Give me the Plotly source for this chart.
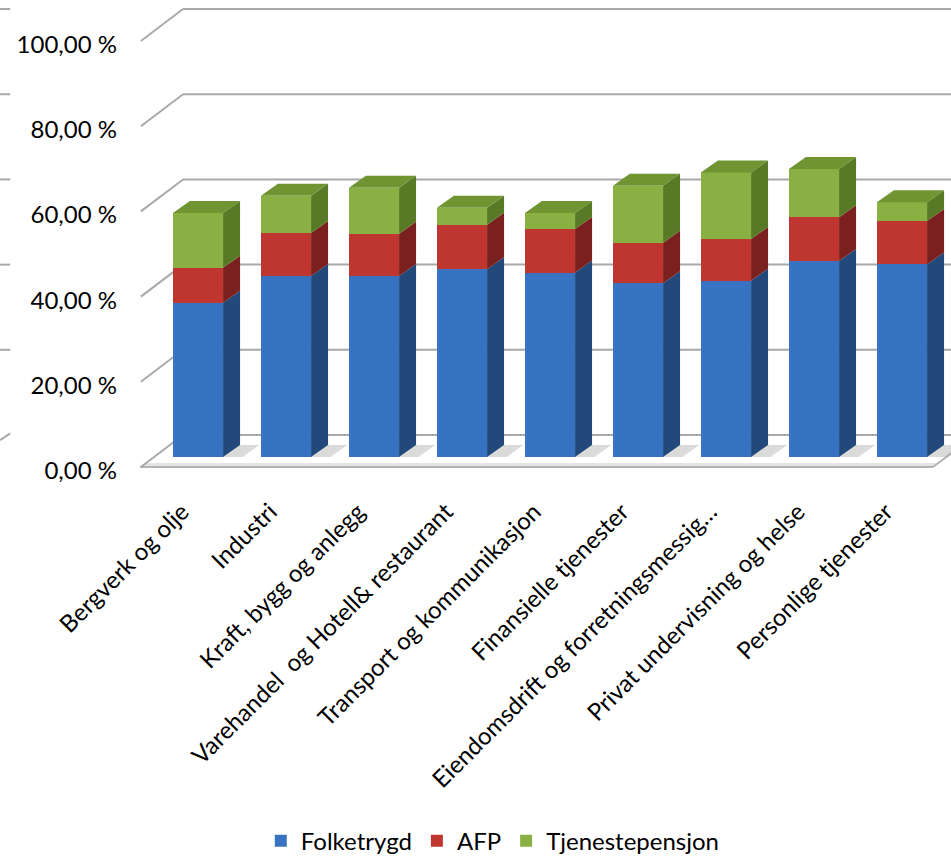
import plotly.graph_objects as go

# Pension share by industry, stacked by source (%)
categories = [
    "Bergverk og olje",
    "Industri",
    "Kraft, bygg og anlegg",
    "Varehandel  og Hotell& restaurant",
    "Transport og kommunikasjon",
    "Finansielle tjenester",
    "Eiendomsdrift og forretningsmessig…",
    "Privat undervisning og helse",
    "Personlige tjenester",
]
folketrygd = [36.2, 42.5, 42.5, 44.1, 43.3, 40.8, 41.4, 46.0, 45.2]
afp = [8.2, 10.1, 9.9, 10.4, 10.2, 9.5, 9.8, 10.3, 10.2]
tjenestepensjon = [12.9, 8.7, 10.8, 4.0, 3.8, 13.4, 15.6, 11.3, 4.4]

series_names = ["Folketrygd", "AFP", "Tjenestepensjon"]
y_ticks = [0, 20, 40, 60, 80, 100]
y_tick_labels = [f"{v},00 %" for v in y_ticks]

# Colours: front face, side face, top face
FRONT = ["#3873c1", "#bf3631", "#88b042"]
SIDE = ["#23497b", "#7a2120", "#587a27"]
TOP = ["#2f5f9f", "#9b2a27", "#6f9431"]
GRID = "#a9a9a9"

# Pseudo-3D geometry in axis units
BAR_W = 0.57
DEPTH_X = 0.193
DEPTH_Y = 2.82
FRONT_DY = -3.2       # front plane offset (tick labels)
BACK_DY = 5.16        # back wall offset (gridlines)
FLOOR_Y = -2.347      # front edge of the floor
X_MIN, X_MAX = -0.659, 8.557
Y_MIN, Y_MAX = -3.521, 107.28
BACK_X = X_MIN + 0.489
FLOOR_RIGHT = 8.352
FONT = "Lato, Open Sans, sans-serif"

x = list(range(len(categories)))
series = [folketrygd, afp, tjenestepensjon]

fig = go.Figure()
for name, vals, col in zip(series_names, series, FRONT):
    fig.add_trace(go.Bar(
        x=x, y=vals, name=name, width=BAR_W,
        marker=dict(color=col, line=dict(width=0)),
    ))

shapes = []


def poly(pts, fill, layer="above", line_color=None, width=0):
    path = "M " + " L ".join(f"{px},{py}" for px, py in pts) + " Z"
    return dict(type="path", path=path, xref="x", yref="y", fillcolor=fill,
                line=dict(color=line_color or fill, width=width), layer=layer)


def seg(x0, y0, x1, y1, color=GRID, width=2, xref="x"):
    return dict(type="line", x0=x0, y0=y0, x1=x1, y1=y1, xref=xref, yref="y",
                line=dict(color=color, width=width), layer="below")


# Floor slab
shapes.append(poly([(X_MIN, FLOOR_Y), (BACK_X, BACK_DY), (FLOOR_RIGHT + 0.489, BACK_DY),
                    (FLOOR_RIGHT, FLOOR_Y)], "#ffffff", layer="below"))
shapes.append(poly([(X_MIN, FLOOR_Y), (X_MIN + 0.05, -1.4), (FLOOR_RIGHT + 0.05, -1.4),
                    (FLOOR_RIGHT, FLOOR_Y)], "#e4e4e4", layer="below"))
shapes.append(seg(X_MIN, FLOOR_Y, FLOOR_RIGHT, FLOOR_Y, "#b3b3b3", 2))
shapes.append(seg(FLOOR_RIGHT, FLOOR_Y, FLOOR_RIGHT + 0.489, BACK_DY, "#b3b3b3", 2))

# Gridlines: back wall + diagonal to the front plane
for v in y_ticks:
    shapes.append(seg(X_MIN + 0.01, v + FLOOR_Y, BACK_X, v + BACK_DY))
    shapes.append(seg(BACK_X, v + BACK_DY, X_MAX + 1, v + BACK_DY))
    if v == 0:
        shapes.append(seg(-0.1726, v + BACK_DY - 1.2, -0.160, v + BACK_DY + 0.4, xref="paper"))
    else:
        shapes.append(seg(-0.1726, v + BACK_DY, -0.160, v + BACK_DY, xref="paper"))

# Floor shadows beside each bar
for i in x:
    xr = i + BAR_W / 2
    shapes.append(poly([(xr, 0), (xr + DEPTH_X, DEPTH_Y), (xr + DEPTH_X + 0.22, DEPTH_Y),
                        (xr + 0.22, 0)], "rgba(150,150,150,0.35)", layer="below"))

# Side and top faces of each stacked bar
for i in x:
    xl, xr = i - BAR_W / 2, i + BAR_W / 2
    base = 0.0
    for k, vals in enumerate(series):
        top = base + vals[i]
        shapes.append(poly([(xr, base), (xr + DEPTH_X, base + DEPTH_Y),
                            (xr + DEPTH_X, top + DEPTH_Y), (xr, top)], SIDE[k]))
        base = top
    shapes.append(poly([(xl, base), (xl + DEPTH_X, base + DEPTH_Y),
                        (xr + DEPTH_X, base + DEPTH_Y), (xr, base)], TOP[2]))

fig.update_layout(
    barmode="stack",
    width=951, height=865,
    margin=dict(l=140, r=0, t=0, b=393),
    paper_bgcolor="white", plot_bgcolor="white",
    font=dict(family=FONT, size=24, color="#000000"),
    shapes=shapes,
    showlegend=True,
    legend=dict(orientation="h", x=0.435, xanchor="center", y=-0.830, yanchor="bottom",
                font=dict(size=24), traceorder="normal"),
    xaxis=dict(range=[X_MIN, X_MAX], tickvals=x, ticktext=categories, tickangle=-45,
               showgrid=False, zeroline=False, showline=False, ticks="", automargin=False,
               ticklabelstandoff=20, ticklabelshift=-16, tickfont=dict(size=24)),
    yaxis=dict(range=[Y_MIN, Y_MAX], tickvals=[v + FRONT_DY for v in y_ticks],
               ticktext=y_tick_labels, showgrid=False, zeroline=False, showline=False,
               ticks="", automargin=False, ticklabelstandoff=22, tickfont=dict(size=24)),
)

fig.write_html("out.html")
